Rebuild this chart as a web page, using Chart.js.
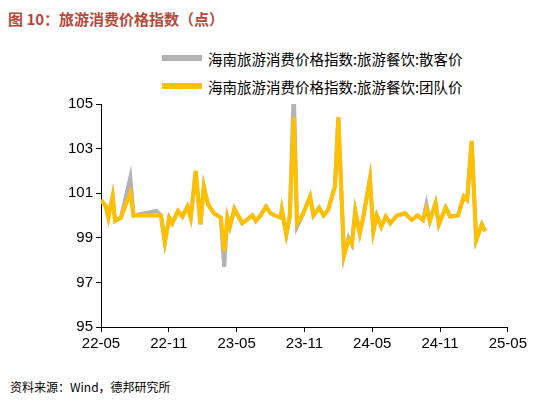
<!DOCTYPE html>
<html><head><meta charset="utf-8">
<script src="https://cdn.jsdelivr.net/npm/chart.js@4"></script>
<style>
body{margin:0;width:552px;height:410px;background:#fff;font-family:"Noto Sans CJK SC",sans-serif;position:relative;overflow:hidden}
#title{position:absolute;left:8px;top:8px;font-size:15px;font-weight:bold;color:#b5483a}
#legend{position:absolute;left:162px;top:44px;font-size:14.5px;color:#000}
.li{display:flex;align-items:center;height:28px}
.li span{display:inline-block;width:40px;height:6px;margin-right:6px}
#src{position:absolute;left:10px;top:378px;font-size:12px;color:#000}
#wrap{position:absolute;left:65px;top:92px;width:465px;height:264px}
</style></head><body>
<div id="title">图 10：旅游消费价格指数（点）</div>
<div id="legend">
 <div class="li"><span style="background:#b3b3b3"></span>海南旅游消费价格指数:旅游餐饮:散客价</div>
 <div class="li"><span style="background:#ffc000"></span>海南旅游消费价格指数:旅游餐饮:团队价</div>
</div>
<div id="wrap"><canvas id="c"></canvas></div>
<div id="src">资料来源：Wind，德邦研究所</div>
<script>
// months since 2022-05
const months = [0,0.44,0.65,1.03,1.24,1.76,2.59,2.88,4.9,5.3,5.65,6.03,6.3,6.8,7.2,7.65,7.94,8.38,8.8,9.1,9.47,10.0,10.6,10.9,11.18,11.4,11.8,12.5,13.4,13.7,14.1,14.6,15.0,15.4,15.9,16.0,16.4,16.7,17.06,17.35,17.9,18.5,18.8,19.3,19.7,20.1,20.7,21.0,21.5,21.9,22.2,22.5,22.9,23.2,23.8,24.1,24.4,24.8,25.2,25.6,26.2,26.9,27.5,28.0,28.5,28.8,29.1,29.6,29.9,30.5,30.9,31.6,32.1,32.4,32.8,33.2,33.7,34.0];
const teamPrice = [100.7,100.4,99.9,100.85,99.75,99.9,101.0,100.0,100.0,100.0,98.8,99.9,99.65,100.2,99.95,100.4,99.9,102.0,99.6,101.3,100.5,100.1,99.9,98.4,99.9,99.5,100.3,99.65,100.0,99.75,100.0,100.4,100.1,100.0,99.9,100.25,99.15,99.95,104.4,99.65,100.1,100.85,100.0,100.35,100.0,100.25,101.3,104.4,98.2,98.9,98.7,100.2,99.2,99.9,101.65,99.3,100.0,99.5,99.95,99.65,100.0,100.1,99.8,100.0,99.8,100.3,99.75,100.55,99.6,100.35,99.95,100.0,100.85,100.7,103.35,98.9,99.6,99.3];
const individualPrice = [100.7,100.4,99.9,100.85,99.75,99.9,101.7,100.0,100.2,100.0,98.8,99.9,99.65,100.2,99.95,100.4,99.9,102.0,99.6,101.3,100.5,100.1,99.9,97.7,99.9,99.5,100.3,99.65,100.0,99.75,100.0,100.4,100.1,100.0,99.9,100.25,99.15,99.95,105.6,99.5,100.1,100.85,100.0,100.35,100.0,100.25,101.3,104.4,98.2,99.0,98.7,100.2,99.2,99.9,101.65,99.3,100.0,99.5,99.95,99.65,100.0,100.1,99.8,100.0,99.8,100.5,99.75,100.55,99.6,100.35,99.95,100.0,100.85,100.7,103.35,98.9,99.6,99.3];
const tickLabels = ["22-05","22-11","23-05","23-11","24-05","24-11","25-05"];

const pts = vals => months.map((m, i) => ({x: m, y: vals[i]}));
const font = {family: "Arial, 'Liberation Sans'", size: 15};
const axisGrid = {drawOnChartArea: false, drawTicks: true, tickLength: 5, color: "#000"};

new Chart(document.getElementById("c"), {
  type: "line",
  data: {datasets: [
    {data: pts(individualPrice), borderColor: "#b3b3b3", borderWidth: 4, pointRadius: 0, tension: 0, order: 2},
    {data: pts(teamPrice), borderColor: "#ffc000", borderWidth: 4, pointRadius: 0, tension: 0, order: 1},
  ]},
  options: {
    responsive: true, maintainAspectRatio: false, animation: false,
    layout: {padding: {right: 20}},
    plugins: {legend: {display: false}, tooltip: {enabled: false}},
    scales: {
      x: {type: "linear", min: 0, max: 36,
          grid: axisGrid,
          border: {color: "#000"},
          ticks: {stepSize: 6, color: "#000", font, maxRotation: 0,
                  callback: v => tickLabels[v / 6]}},
      y: {min: 95, max: 105,
          grid: axisGrid,
          border: {color: "#000"},
          ticks: {stepSize: 2, color: "#000", font}},
    },
  },
});
</script>
</body></html>
